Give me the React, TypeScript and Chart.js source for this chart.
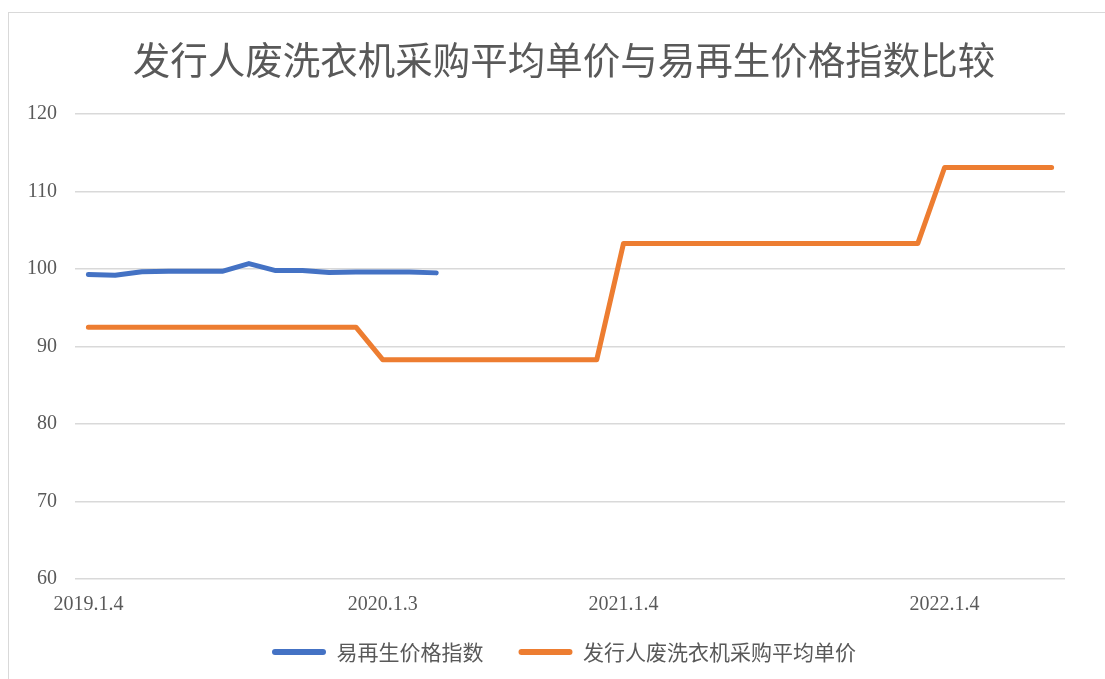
import React, { useEffect, useRef } from "react";
import { Chart, registerables } from "chart.js";

Chart.register(...registerables);

const titleText = "发行人废洗衣机采购平均单价与易再生价格指数比较";

const categories: string[] = [
  "2019.1.4", "", "", "", "", "", "", "", "", "", "",
  "2020.1.3", "", "", "", "", "", "", "", "",
  "2021.1.4", "", "", "", "", "", "", "", "", "", "", "",
  "2022.1.4", "", "", "", "",
];

const indexLabel = "易再生价格指数";
const indexValues: (number | null)[] = [
  99.3, 99.2, 99.65, 99.7, 99.7, 99.7, 100.7, 99.8, 99.8, 99.55, 99.6, 99.6, 99.6, 99.5,
  null, null, null, null, null, null, null, null, null, null, null, null,
  null, null, null, null, null, null, null, null, null, null, null,
];

const priceLabel = "发行人废洗衣机采购平均单价";
const priceValues: number[] = [
  92.5, 92.5, 92.5, 92.5, 92.5, 92.5, 92.5, 92.5, 92.5, 92.5, 92.5,
  88.3, 88.3, 88.3, 88.3, 88.3, 88.3, 88.3, 88.3, 88.3,
  103.3, 103.3, 103.3, 103.3, 103.3, 103.3, 103.3, 103.3, 103.3, 103.3, 103.3, 103.3,
  113.1, 113.1, 113.1, 113.1, 113.1,
];

const yMin = 60;
const yMax = 120;
const yStep = 10;

const BLUE = "#4472C4";
const ORANGE = "#ED7D31";
const TEXT = "#595959";

const extendXLabelClip = {
  id: "extendXLabelClip",
  afterLayout(chart: any) {
    const s = chart.scales.x;
    if (s) s.bottom = s.top + 45;
  },
};

export default function App() {
  const ref = useRef<HTMLCanvasElement | null>(null);

  useEffect(() => {
    if (!ref.current) return;
    const chart = new Chart(ref.current, {
      type: "line",
      data: {
        labels: categories,
        datasets: [
          {
            label: indexLabel,
            data: indexValues,
            borderColor: BLUE,
            backgroundColor: BLUE,
            borderWidth: 5,
            pointRadius: 0,
            pointHoverRadius: 0,
            tension: 0,
            borderCapStyle: "round",
            borderJoinStyle: "round",
            spanGaps: false,
            fill: false,
          },
          {
            label: priceLabel,
            data: priceValues,
            borderColor: ORANGE,
            backgroundColor: ORANGE,
            borderWidth: 5,
            pointRadius: 0,
            pointHoverRadius: 0,
            tension: 0,
            borderCapStyle: "round",
            borderJoinStyle: "round",
            fill: false,
          },
        ],
      },
      plugins: [extendXLabelClip],
      options: {
        responsive: false,
        animation: false,
        layout: { padding: { left: 14, right: 0, top: 0, bottom: 6.5 } },
        plugins: {
          title: {
            display: true,
            text: titleText,
            color: TEXT,
            font: { family: '"Noto Sans CJK SC", "Noto Sans", sans-serif', size: 37.5, weight: "normal" },
            padding: { top: 24, bottom: 32 },
          },
          legend: {
            display: true,
            position: "bottom",
            labels: {
              color: TEXT,
              font: { family: '"Noto Sans CJK SC", "Noto Sans", sans-serif', size: 21 },
              boxWidth: 54,
              boxHeight: 6,
              padding: 35,
              useBorderRadius: true,
              borderRadius: 3,
              generateLabels: (c: any) => {
                const items = Chart.defaults.plugins.legend.labels.generateLabels(c);
                return items.map((it: any) => ({
                  ...it,
                  fillStyle: it.strokeStyle,
                  lineWidth: 0,
                  borderRadius: 3,
                }));
              },
            },
          },
          tooltip: { enabled: false },
        },
        scales: {
          x: {
            type: "category",
            offset: true,
            grid: { display: false, drawTicks: false },
            border: { display: false },
            ticks: {
              autoSkip: false,
              maxRotation: 0,
              minRotation: 0,
              padding: 14,
              color: TEXT,
              font: { family: '"Liberation Serif", "DejaVu Serif", serif', size: 20 },
            },
            afterFit: (scale: any) => {
              scale.height = 27.5;
            },
          },
          y: {
            min: yMin,
            max: yMax,
            grid: { color: "#d9d9d9", lineWidth: 1.5, drawTicks: false },
            border: { display: false },
            ticks: {
              stepSize: yStep,
              padding: 18,
              color: TEXT,
              font: { family: '"Liberation Serif", "DejaVu Serif", serif', size: 20 },
            },
            afterFit: (scale: any) => {
              scale.width = 52;
            },
          },
          yRightSpace: {
            type: "linear",
            position: "right",
            display: true,
            grid: { display: false, drawTicks: false },
            border: { display: false },
            ticks: { display: false },
            afterFit: (scale: any) => {
              scale.width = 40;
            },
          },
        },
      },
    });
    return () => chart.destroy();
  }, []);

  return (
    <div
      style={{
        position: "fixed",
        left: 8,
        top: 12,
        width: 1097,
        height: 667,
        boxSizing: "border-box",
        borderLeft: "1px solid #d9d9d9",
        borderTop: "1px solid #d9d9d9",
        background: "#fff",
      }}
    >
      <canvas ref={ref} width={1096} height={666} style={{ display: "block" }} />
    </div>
  );
}
